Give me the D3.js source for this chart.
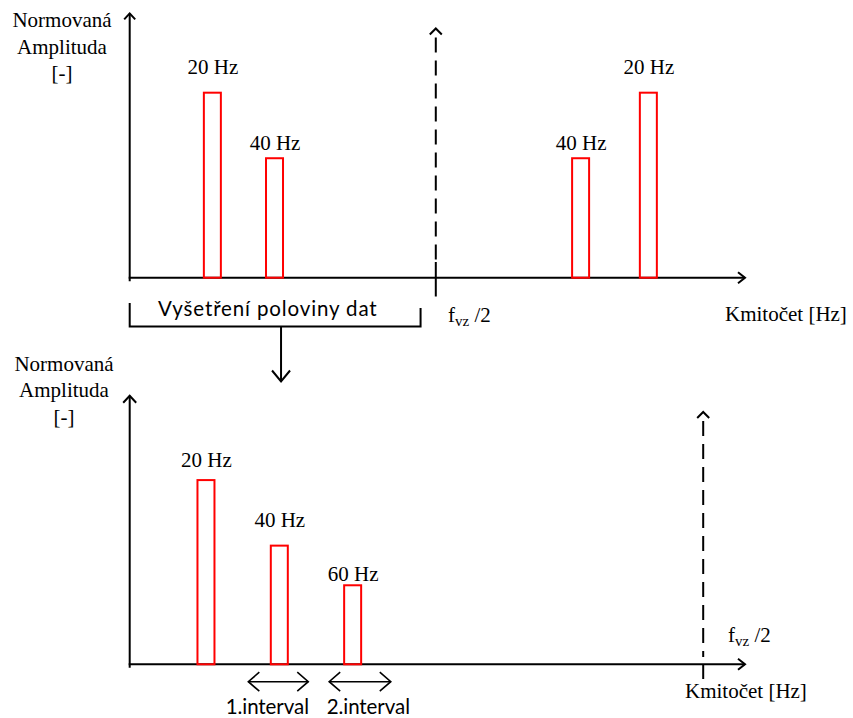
<!DOCTYPE html>
<html>
<head>
<meta charset="utf-8">
<script src="https://cdn.jsdelivr.net/npm/d3@7"></script>
<style>
  html, body { margin: 0; padding: 0; background: #fff; }
  svg { display: block; }
  .serif { font-family: "Liberation Serif", "Times New Roman", serif; font-size: 21px; fill: #000; }
  .sans { font-family: Lato, "Open Sans", sans-serif; font-size: 20.5px; fill: #000; }
</style>
</head>
<body>
<svg id="chart" width="853" height="718"></svg>
<script>
// ---------- data ----------
// Top panel: full spectrum (Hz positions, normalized amplitude)
const topFreqs      = [20, 40, 138.5, 160.3];
const topAmps       = [0.700, 0.452, 0.452, 0.700];
const topLabels     = ["20 Hz", "40 Hz", "40 Hz", "20 Hz"];
const topLabelAmps  = [0.771, 0.483, 0.483, 0.771];
const topHalfFs     = 91.9;          // f_vz / 2 marker
const topXDomain    = [-6.6, 191.4];
const topYMax       = 1.0;
const bracketRange  = [-6.6, 87.0];  // "Vyšetření poloviny dat"
const bracketArrowF = 42.1;

// Bottom panel: examined half
const botFreqs      = [20, 40, 60];
const botAmps       = [0.697, 0.449, 0.299];
const botLabels     = ["20 Hz", "40 Hz", "60 Hz"];
const botLabelAmps  = [0.748, 0.521, 0.316];
const botHalfFs     = 155.6;
const botXDomain    = [-0.8, 167];
const botYMax       = 1.016;
const intervals     = [[31.55, 47.9], [53.6, 70.4]];
const intervalLabels = ["1.interval", "2.interval"];

const yLabelLines = ["Normovaná", "Amplituda", "[-]"];
const xLabel = "Kmitočet [Hz]";
const bracketText = "Vyšetření poloviny dat";

// ---------- drawing ----------
const svg = d3.select("#chart");
svg.append("rect").attr("width", 853).attr("height", 718).attr("fill", "#fff");

const BAR_W = 17;
const RED = "#ff0000";

function chevron(g, x, y, dir, half, len, sw) {
  let pts;
  if (dir === "up")    pts = [[x - half, y + len], [x, y], [x + half, y + len]];
  if (dir === "down")  pts = [[x - half, y - len], [x, y], [x + half, y - len]];
  if (dir === "right") pts = [[x - len, y - half], [x, y], [x - len, y + half]];
  if (dir === "left")  pts = [[x + len, y - half], [x, y], [x + len, y + half]];
  g.append("path").attr("d", d3.line()(pts))
    .attr("fill", "none").attr("stroke", "#000").attr("stroke-width", sw)
    .attr("stroke-linejoin", "miter").attr("stroke-linecap", "butt");
}

function panel(opts) {
  const g = svg.append("g");
  const x = d3.scaleLinear().domain(opts.xDomain).range([129.7, 745]);
  const y = d3.scaleLinear().domain([0, 1]).range([opts.axisY, opts.axisY - 264.3]);
  const x0 = x(opts.xDomain[0]);

  // y axis
  g.append("line").attr("x1", x0).attr("x2", x0)
    .attr("y1", y(opts.yMax)).attr("y2", opts.axisY + 3.5)
    .attr("stroke", "#000").attr("stroke-width", 2);
  chevron(g, x0, y(opts.yMax), "up", opts.yHead[0], opts.yHead[1], 2);

  // x axis
  const xEnd = x(opts.xDomain[1]);
  g.append("line").attr("x1", x0 - 1).attr("x2", xEnd)
    .attr("y1", opts.axisY).attr("y2", opts.axisY)
    .attr("stroke", "#000").attr("stroke-width", 2);
  chevron(g, xEnd, opts.axisY, "right", 5.5, 7, 2);

  // bars
  g.selectAll("rect.bar").data(opts.freqs).join("rect")
    .attr("class", "bar")
    .attr("x", d => x(d) - BAR_W / 2)
    .attr("width", BAR_W)
    .attr("y", (d, i) => y(opts.amps[i]))
    .attr("height", (d, i) => opts.axisY - y(opts.amps[i]))
    .attr("fill", "none").attr("stroke", RED).attr("stroke-width", 2);

  // bar labels
  g.selectAll("text.lbl").data(opts.freqs).join("text")
    .attr("class", "serif lbl")
    .attr("x", d => x(d) + 0.5)
    .attr("y", (d, i) => y(opts.labelAmps[i]))
    .attr("text-anchor", "middle")
    .text((d, i) => opts.labels[i]);

  // f_vz/2 dashed marker
  const xh = x(opts.halfFs);
  chevron(g, xh, opts.dashTop, "up", 6, 6, 2);
  g.append("line").attr("x1", xh).attr("x2", xh)
    .attr("y1", opts.dashTop + 9).attr("y2", opts.dashEnd)
    .attr("stroke", "#000").attr("stroke-width", 2)
    .attr("stroke-dasharray", "15,8");
  g.append("line").attr("x1", xh).attr("x2", xh)
    .attr("y1", opts.tick[0]).attr("y2", opts.tick[1])
    .attr("stroke", "#000").attr("stroke-width", 2);

  // f_vz /2 label
  const t = g.append("text").attr("class", "serif")
    .attr("x", opts.fLabel[0]).attr("y", opts.fLabel[1]);
  t.append("tspan").text("f");
  t.append("tspan").attr("dy", 4).attr("font-size", 15).text("vz");
  t.append("tspan").attr("dy", -4).text(" /2");

  // x axis label
  g.append("text").attr("class", "serif")
    .attr("x", opts.xLabelPos[0]).attr("y", opts.xLabelPos[1])
    .text(xLabel);

  // y axis label
  g.selectAll("text.ylab").data(yLabelLines).join("text")
    .attr("class", "serif ylab")
    .attr("x", opts.yLabelX)
    .attr("y", (d, i) => opts.yLabelY + i * 26.4)
    .attr("text-anchor", "middle")
    .text(d => d);

  return { g, x, y };
}

const topPanel = panel({
  xDomain: topXDomain, axisY: 277.7, yMax: topYMax, yHead: [5.5, 6],
  freqs: topFreqs, amps: topAmps, labels: topLabels, labelAmps: topLabelAmps,
  halfFs: topHalfFs, dashTop: 28.5, dashEnd: 262, tick: [262, 296.5],
  fLabel: [448, 321.7], xLabelPos: [725, 320.7],
  yLabelX: 62, yLabelY: 27.3
});

const botPanel = panel({
  xDomain: botXDomain, axisY: 664.3, yMax: botYMax, yHead: [6.5, 7],
  freqs: botFreqs, amps: botAmps, labels: botLabels, labelAmps: botLabelAmps,
  halfFs: botHalfFs, dashTop: 412, dashEnd: 657, tick: [664, 679],
  fLabel: [728, 641.7], xLabelPos: [685, 698],
  yLabelX: 64, yLabelY: 371
});

// bracket "Vyšetření poloviny dat"
{
  const g = svg.append("g");
  const bx0 = topPanel.x(bracketRange[0]), bx1 = topPanel.x(bracketRange[1]);
  const by = 326.5;
  g.append("path")
    .attr("d", d3.line()([[bx0, 303], [bx0, by], [bx1, by], [bx1, 308]]))
    .attr("fill", "none").attr("stroke", "#000").attr("stroke-width", 2);
  g.append("text").attr("class", "sans")
    .attr("x", 158).attr("y", 316)
    .attr("textLength", 218.7).attr("lengthAdjust", "spacing")
    .text(bracketText);
  const ax = topPanel.x(bracketArrowF);
  g.append("line").attr("x1", ax).attr("x2", ax).attr("y1", by).attr("y2", 381)
    .attr("stroke", "#000").attr("stroke-width", 2);
  chevron(g, ax, 381.5, "down", 9, 11, 2);
}

// intervals (double arrows)
{
  const g = svg.append("g");
  const ay = 681.7;
  intervals.forEach((iv) => {
    const a = botPanel.x(iv[0]), b = botPanel.x(iv[1]);
    g.append("line").attr("x1", a).attr("x2", b).attr("y1", ay).attr("y2", ay)
      .attr("stroke", "#000").attr("stroke-width", 1.6);
    chevron(g, a, ay, "left", 9.5, 11, 1.6);
    chevron(g, b, ay, "right", 9.5, 11, 1.6);
  });
  const labelX = [225.7, 326.7];
  g.selectAll("text.iv").data(intervalLabels).join("text")
    .attr("class", "sans iv")
    .attr("x", (d, i) => labelX[i]).attr("y", 714)
    .attr("textLength", 83.3).attr("lengthAdjust", "spacing")
    .text(d => d);
}
</script>
</body>
</html>
